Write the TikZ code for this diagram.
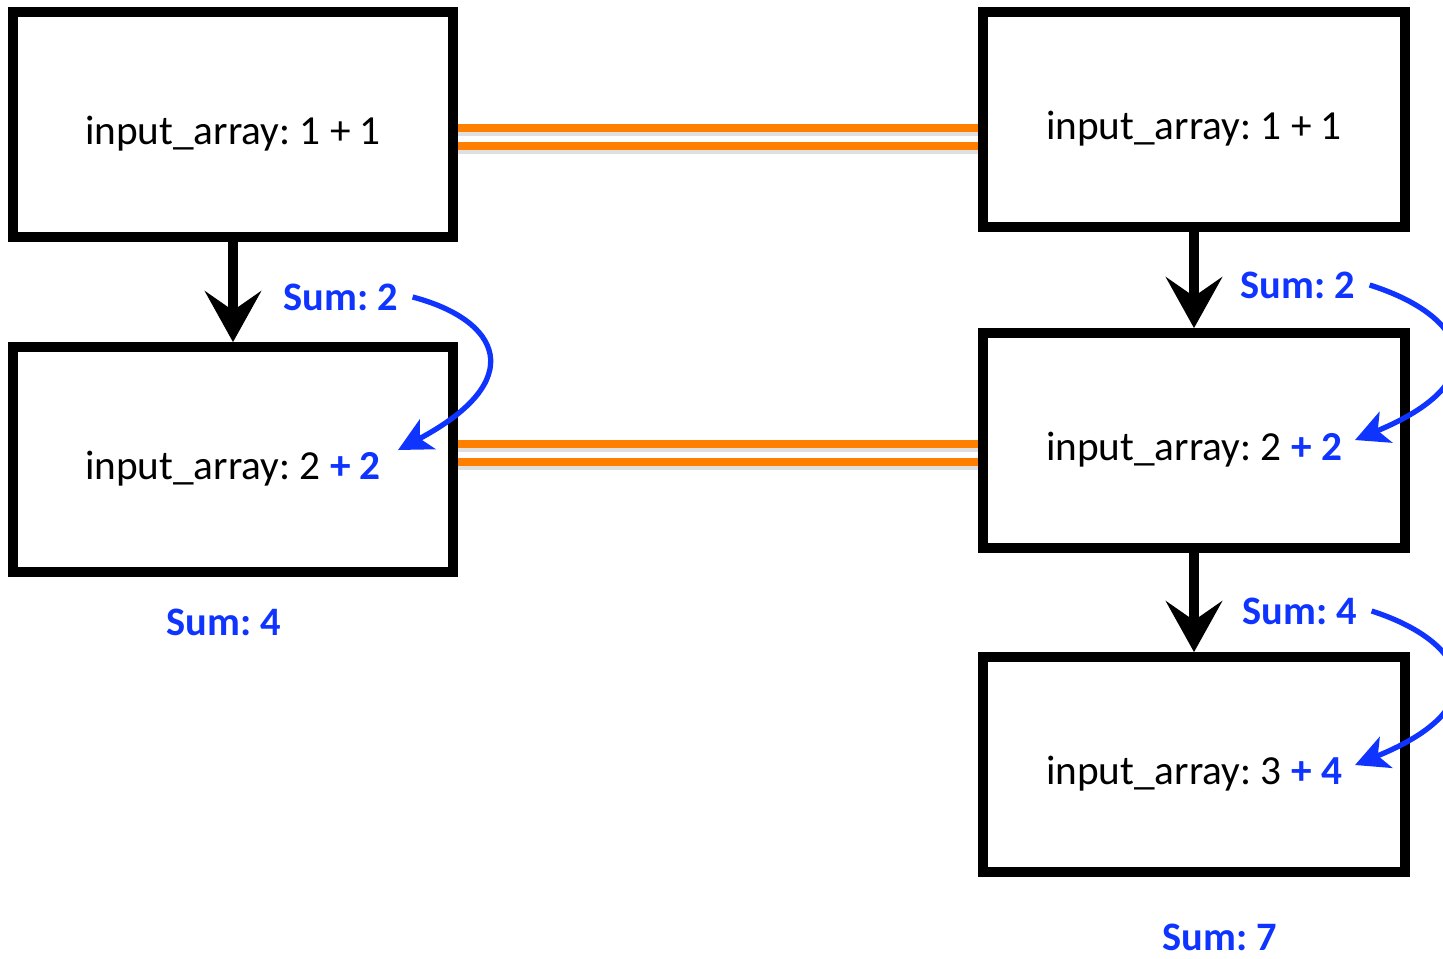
\documentclass[tikz,border=0pt]{standalone}
\usepackage{fontspec}
\setmainfont{Carlito}
\usetikzlibrary{arrows.meta}
\frenchspacing

\definecolor{sumblue}{RGB}{16,52,255}
\definecolor{linkorange}{RGB}{255,128,0}

\tikzset{
	box/.style={draw, line width=5.6pt, minimum width=8.8cm, minimum height=4.5cm, text height=23pt, text depth=0pt, font=\fontsize{23.5}{28}\selectfont},
	rbox/.style={box, minimum width=8.44cm, minimum height=4.3cm},
	flow/.style={line width=5.6pt, -{Stealth[length=29pt, width=32pt, inset=11pt]}},
	sumlabel/.style={text=sumblue, inner sep=2pt, font=\fontsize{23}{28}\selectfont\bfseries},
	sumarrow/.style={draw=sumblue, line width=3pt, -{Stealth[length=19pt, width=19pt, inset=5pt]}},
	link/.style={draw=linkorange, line width=4.5pt},
	linkshadow/.style={draw=black!25, line width=5pt, opacity=.5}
}
\newcommand{\plus}[1]{{\color{sumblue}\bfseries + #1}}

\begin{document}
\begin{tikzpicture}[x=0.02cm, y=-0.02cm]
	\useasboundingbox (0,0) rectangle (1443,958);
	% left column
	\node[box] (l1) at (233,124.5) {input\_array: 1 + 1};
	\node[box] (l2) at (233,459.5) {input\_array: 2 \plus{2}};
	% right column
	\node[rbox] (r1) at (1194,119.5) {input\_array: 1 + 1};
	\node[rbox] (r2) at (1194,440.5) {input\_array: 2 \plus{2}};
	\node[rbox] (r3) at (1194,764.5) {input\_array: 3 \plus{4}};
	% flow down
	\draw[flow] (l1.south) -- (l2.north);
	\draw[flow] (r1.south) -- (r2.north);
	\draw[flow] (r2.south) -- (r3.north);
	% orange links with soft shadow
	\foreach \ly in {128,146,444,462}{
		\draw[linkshadow] (l1.east |- 0,\ly+4) -- (r1.west |- 0,\ly+4);
	}
	\foreach \ly in {128,146,444,462}{
		\draw[link] (l1.east |- 0,\ly) -- (r1.west |- 0,\ly);
	}
	% partial sums
	\node[sumlabel] (s1) at (341,297) {Sum: 2};
	\node[sumlabel] (s2) at (224,622) {Sum: 4};
	\node[sumlabel] (s3) at (1298,285) {Sum: 2};
	\node[sumlabel] (s4) at (1300,611) {Sum: 4};
	\node[sumlabel] (s5) at (1220,937) {Sum: 7};
	\coordinate (t1) at (398,450);
	\coordinate (t3) at (1355,440);
	\coordinate (t4) at (1355,765);
	\draw[sumarrow] ([xshift=6pt]s1.east) .. controls (500,320) and (530,380) .. (t1);
	\draw[sumarrow] ([xshift=6pt]s3.east) .. controls (1465,315) and (1500,380) .. (t3);
	\draw[sumarrow] ([xshift=6pt]s4.east) .. controls (1465,641) and (1500,706) .. (t4);
\end{tikzpicture}
\end{document}
